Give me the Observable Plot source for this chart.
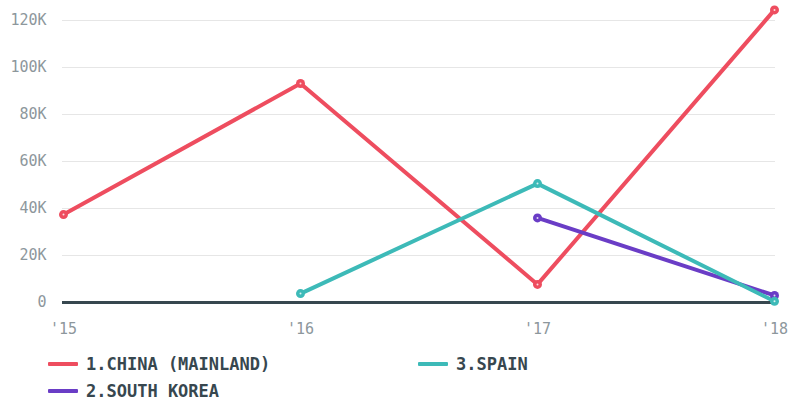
<!DOCTYPE html>
<html>
<head>
<meta charset="utf-8">
<script src="https://cdn.jsdelivr.net/npm/d3@7"></script>
<script src="https://cdn.jsdelivr.net/npm/@observablehq/plot@0.6"></script>
<style>
  html, body { margin: 0; padding: 0; background: #fff; }
  #chart { width: 790px; }
  .legend { display: grid; grid-template-rows: 27px 27px; grid-auto-flow: column; grid-template-columns: 370px 370px; padding-left: 48px; margin-top: 5px; font-family: "DejaVu Sans Mono", monospace; font-weight: bold; font-size: 17px; color: #37474f; }
  .item { display: flex; align-items: center; }
  .sw { width: 30px; height: 4px; margin-right: 8px; border-radius: 1px; }
</style>
</head>
<body>
<div id="chart"></div>
<script>
const years = ["'15", "'16", "'17", "'18"];
const seriesNames = ["1.CHINA (MAINLAND)", "2.SOUTH KOREA", "3.SPAIN"];
const seriesColors = ["#ee4d5f", "#6a3dc6", "#3dbab8"];
const chinaValues = [37400, 93200, 7700, 124500];
const southKoreaValues = [null, null, 36000, 3000];
const spainValues = [null, 3800, 50600, 500];
const yTicks = [0, 20000, 40000, 60000, 80000, 100000, 120000];

const allValues = [chinaValues, southKoreaValues, spainValues];
const data = [];
seriesNames.forEach((name, i) => {
  years.forEach((yr, j) => {
    const v = allValues[i][j];
    if (v != null) data.push({series: name, year: yr, value: v});
  });
});

const chart = Plot.plot({
  width: 790,
  height: 345,
  marginLeft: 62,
  marginRight: 15,
  marginTop: 20,
  marginBottom: 43,
  style: {fontFamily: "DejaVu Sans Mono, monospace", fontSize: "15px", color: "#8d979c", background: "#fff"},
  x: {type: "point", domain: years, padding: 0, label: null},
  y: {domain: [0, 120000], label: null},
  color: {domain: seriesNames, range: seriesColors},
  marks: [
    Plot.gridY(yTicks, {stroke: "#e6e6e6", strokeOpacity: 1, strokeWidth: 1}),
    Plot.axisY(yTicks, {tickSize: 0, tickPadding: 16, tickFormat: d => d === 0 ? "0" : (d / 1000) + "K", fill: "#8d979c"}),
    Plot.axisX({tickSize: 0, tickPadding: 21, fill: "#8d979c"}),
    Plot.ruleY([0], {stroke: "#37474f", strokeWidth: 3}),
    Plot.line(data, {x: "year", y: "value", z: "series", stroke: "series", strokeWidth: 4}),
    Plot.dot(data, {x: "year", y: "value", fill: "series", r: 4.5}),
    Plot.dot(data, {x: "year", y: "value", fill: "#fff", r: 1, fillOpacity: 0.8})
  ]
});
document.getElementById("chart").appendChild(chart);

const legend = document.createElement("div");
legend.className = "legend";
seriesNames.forEach((name, i) => {
  const it = document.createElement("div");
  it.className = "item";
  const sw = document.createElement("span");
  sw.className = "sw";
  sw.style.background = seriesColors[i];
  const t = document.createElement("span");
  t.textContent = name;
  it.appendChild(sw); it.appendChild(t);
  legend.appendChild(it);
});
document.getElementById("chart").appendChild(legend);
</script>
</body>
</html>
